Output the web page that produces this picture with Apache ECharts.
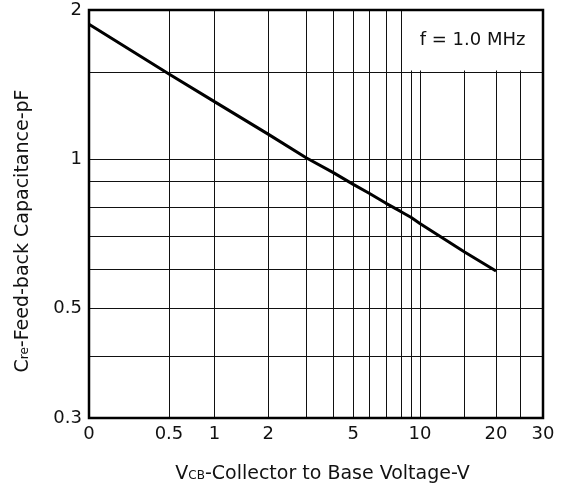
<!DOCTYPE html>
<html>
<head>
<meta charset="utf-8">
<script src="https://cdn.jsdelivr.net/npm/echarts@6/dist/echarts.min.js"></script>
<style>
html, body { margin: 0; padding: 0; background: #fff; }
#chart { width: 564px; height: 485px; }
</style>
</head>
<body>
<div id="chart"></div>
<script>
// Cre - feed-back capacitance vs VCB, f = 1.0 MHz
var vcb = [0, 0.5, 1, 2, 3, 4, 5, 6, 7, 8, 9, 10, 15, 20];
var cre = [1.871, 1.485, 1.306, 1.123, 1.006, 0.940, 0.889, 0.852, 0.814, 0.783, 0.762, 0.741, 0.649, 0.594];

var xGridValues = [0, 0.5, 1, 2, 3, 4, 5, 6, 7, 8, 9, 10, 15, 20, 25, 30];
var xLabelValues = [0, 0.5, 1, 2, 5, 10, 20, 30];
var yGridValues = [0.3, 0.4, 0.5, 0.6, 0.7, 0.8, 0.9, 1, 1.5, 2];
var yLabelValues = [0.3, 0.5, 1, 2];

// the voltage axis of the datasheet is neither linear nor log,
// so each gridline gets its own stop along the axis (0..100)
var xScaleStops = [0, 17.61, 27.63, 39.45, 47.82, 53.72, 58.21, 61.80, 65.43, 68.74, 70.98, 72.88, 82.72, 89.65, 94.98, 100];

var FONT = 'DejaVu Sans';

function toAxis(v) {
    for (var i = 0; i < xGridValues.length - 1; i++) {
        var a = xGridValues[i], b = xGridValues[i + 1];
        if (v <= b) {
            return xScaleStops[i] + (v - a) / (b - a) * (xScaleStops[i + 1] - xScaleStops[i]);
        }
    }
    return 100;
}
function fromAxis(p) {
    for (var i = 0; i < xScaleStops.length - 1; i++) {
        var a = xScaleStops[i], b = xScaleStops[i + 1];
        if (p <= b + 1e-6) {
            return xGridValues[i] + (p - a) / (b - a) * (xGridValues[i + 1] - xGridValues[i]);
        }
    }
    return 30;
}

var chart = echarts.init(document.getElementById('chart'), null, {renderer: 'canvas'});

var subStyle = {fontFamily: FONT, fontSize: 12, color: '#111', verticalAlign: 'bottom', padding: [0, 0, 2, 0]};

var option = {
    animation: false,
    backgroundColor: '#fff',
    grid: {
        left: 89,
        right: 21,
        top: 10,
        bottom: 67,
        show: true,
        z: 10,
        backgroundColor: 'transparent',
        borderColor: '#000',
        borderWidth: 2.5,
        outerBoundsMode: 'none'
    },
    xAxis: {
        type: 'value',
        min: 0,
        max: 100,
        name: '{sp|}V{sub|CB}-Collector to Base Voltage-V',
        nameLocation: 'middle',
        nameGap: 47,
        nameTextStyle: {
            fontFamily: FONT, fontSize: 19, color: '#111',
            rich: {sp: {width: 13}, sub: subStyle}
        },
        axisLine: {show: false},
        axisTick: {show: false, customValues: xGridValues.map(toAxis)},
        axisLabel: {
            customValues: xLabelValues.map(toAxis),
            margin: 7,
            fontFamily: FONT,
            fontSize: 18,
            color: '#111',
            formatter: function (p) {
                return String(Math.round(fromAxis(p) * 10) / 10);
            }
        },
        splitLine: {show: true, lineStyle: {color: '#111', width: 1}}
    },
    yAxis: {
        type: 'log',
        logBase: 10,
        min: 0.3,
        max: 2,
        name: 'C{sub|re}-Feed-back Capacitance-pF{sp|}',
        nameLocation: 'middle',
        nameGap: 56,
        nameTextStyle: {
            fontFamily: FONT, fontSize: 19, color: '#111',
            rich: {sp: {width: 34}, sub: subStyle}
        },
        axisLine: {show: false},
        axisTick: {show: false, customValues: yGridValues},
        axisLabel: {
            customValues: yLabelValues,
            margin: 7,
            fontFamily: FONT,
            fontSize: 18,
            color: '#111',
            formatter: function (v) {
                return String(Math.round(v * 10) / 10);
            }
        },
        splitLine: {show: true, lineStyle: {color: '#111', width: 1}}
    },
    series: [{
        type: 'line',
        data: vcb.map(function (v, i) { return [toAxis(v), cre[i]]; }),
        symbol: 'none',
        lineStyle: {color: '#000', width: 3},
        markArea: {
            silent: true,
            itemStyle: {color: '#fff'},
            label: {
                show: true,
                position: 'inside',
                fontFamily: FONT,
                fontSize: 18,
                color: '#111'
            },
            data: [[
                {name: 'f = 1.0 MHz', coord: [toAxis(8.1), 1.51]},
                {coord: [100, 2]}
            ]]
        }
    }]
};

chart.setOption(option);
</script>
</body>
</html>
